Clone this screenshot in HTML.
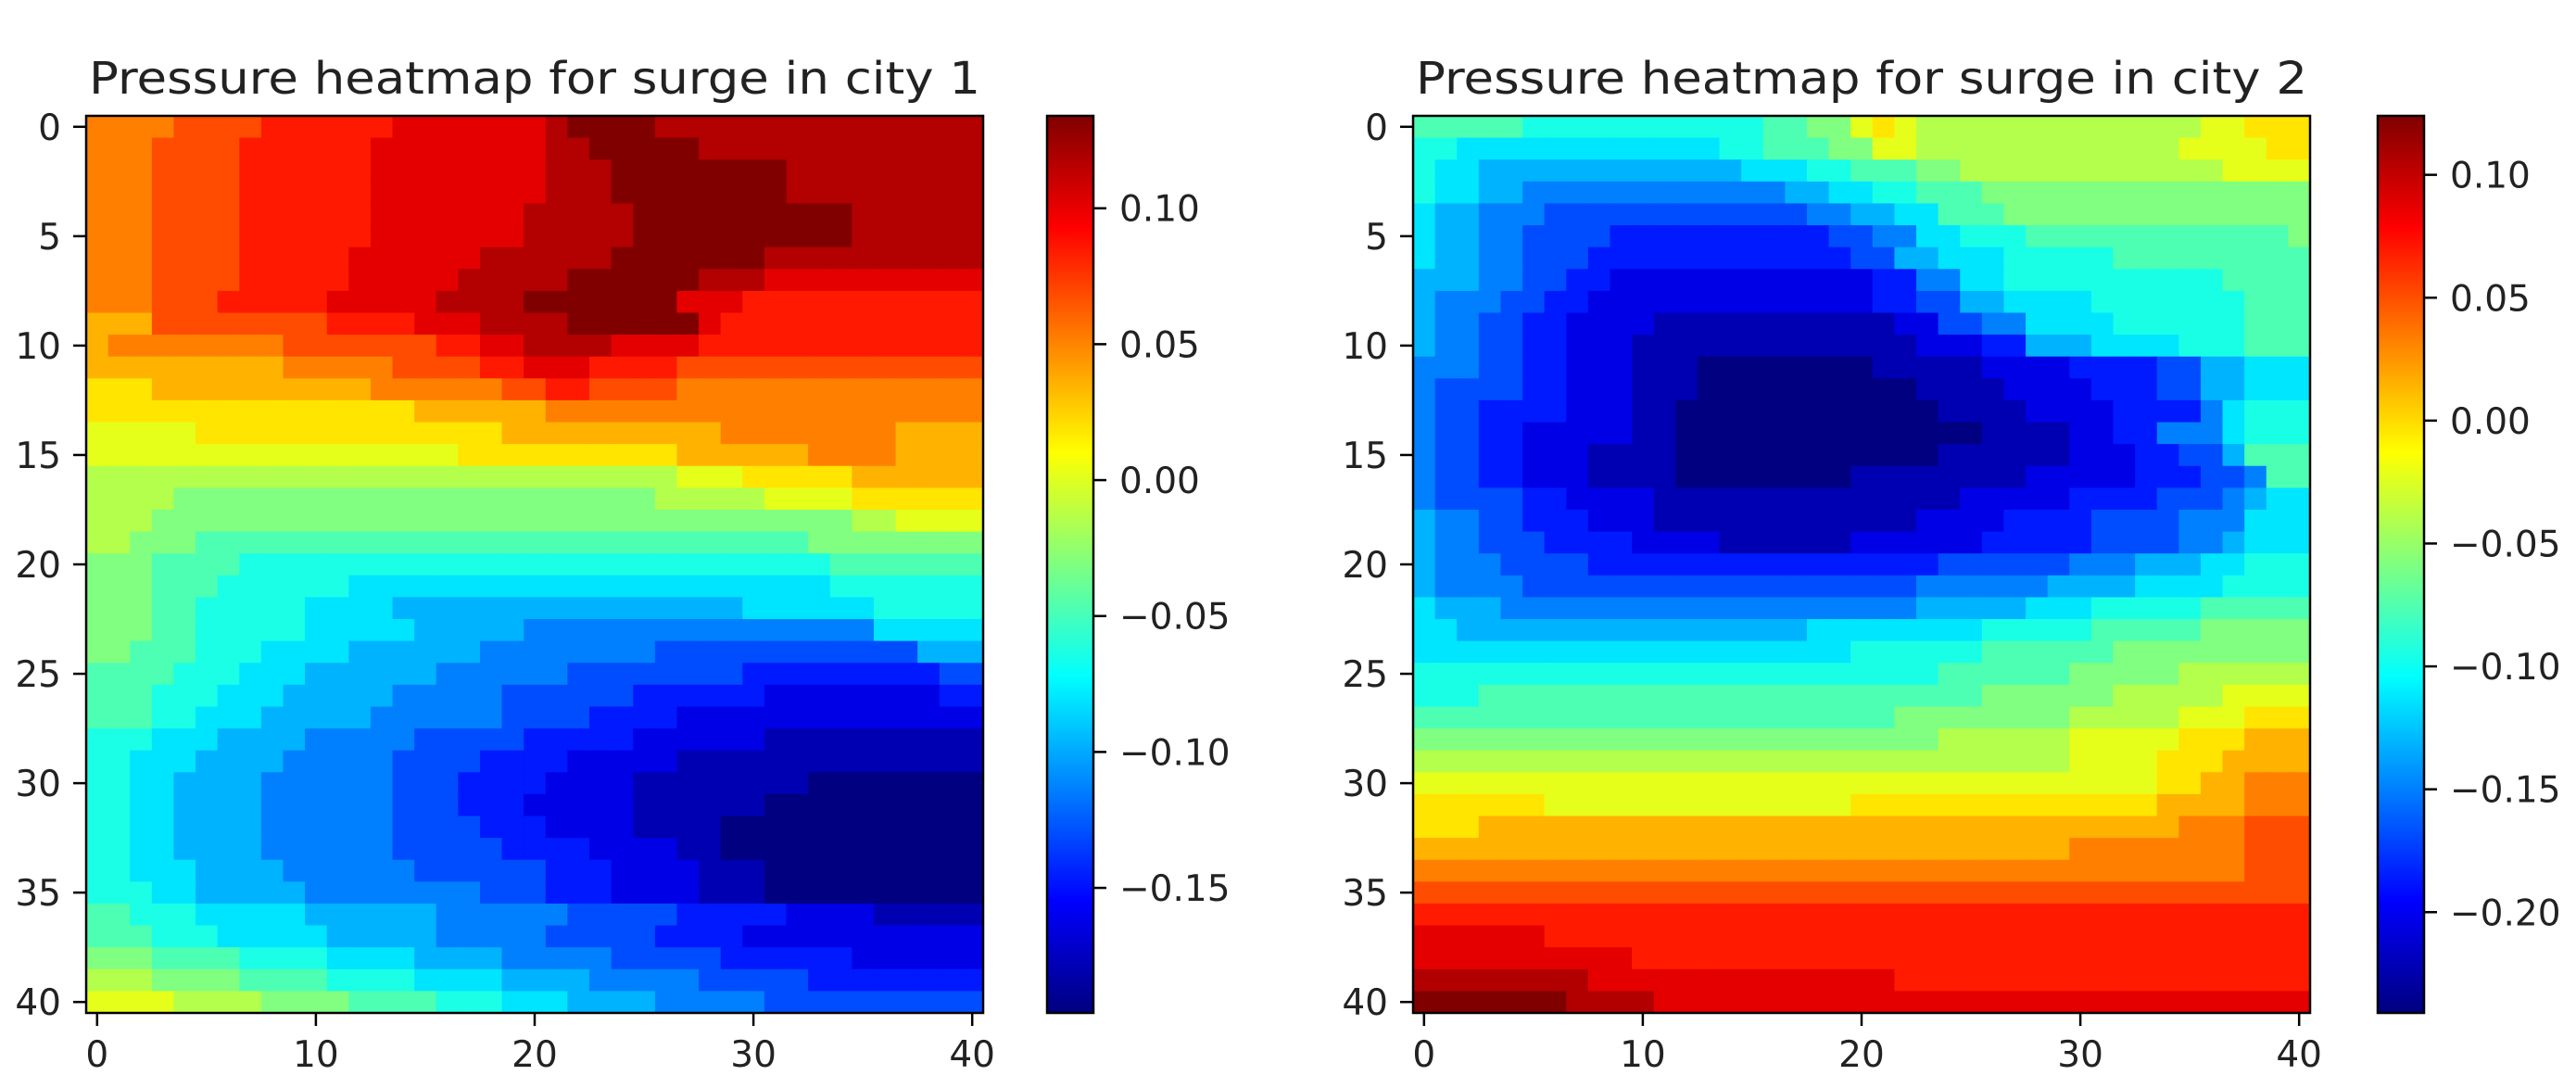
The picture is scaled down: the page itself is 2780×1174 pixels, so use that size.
<!DOCTYPE html>
<html><head><meta charset="utf-8">
<style>
html,body{margin:0;padding:0;background:#fff;}
svg{display:block;font-family:"DejaVu Sans","Liberation Sans",sans-serif;}
</style></head>
<body>
<svg id="fig" width="2780" height="1174" viewBox="0 0 2780 1174" xmlns="http://www.w3.org/2000/svg">
<rect width="2780" height="1174" fill="#fff"/>
</svg>
<script>
// ---- data: city 1 (rows 0..40, run-length letters a..u = level 0..20) ----
const city1Rows = [
"p4q4r6s7t1u4t15","p3q4r6s8t2u5t13","p3q4r6s8t3u8t9","p3q4r6s8t3u8t9","p3q4r6s7t5u10t6",
"p3q4r6s7t5u10t6","p3q4r5s6t6u7t10","p3q4r5s5t5u6t3s10","p3q3r5s5t4u7s3r11","o3q4q4r4s3t4u6s1r12",
"o1p8q7r2s2t4s4r13","o9p5q4r2s3r4q14","n3o10p6q2r2q4p14","n15o6p20","m5n14o10p8o4",
"m17n10o6p4o4","l27m3n5o6","l4k22l5m4n6","l3k32l2m4","l2k3j28k8",
"k3j4i27j7","k3j3i6h22i7","k3j2i5h4g16h6i5","k3j2i5h5g5f16h5","k2j3i3h4g6f8e12g3",
"j4i3h3g6f6e8d9e2","j3i3h3g5f5e6d6c8d2","j3i2h3g5f6e4d4c14","i3h3g4f5e5d5c6b10","i2h3g4f5e4d4c5b14",
"i2h2g4f6e3d4c4b8a8","i2h2g4f6e3d3c5b6a10","i2h2g4f6e4d3c4b4a12","i2h2g4f6e5d4c4b2a12","i2h3g4f6e6d3c4b3a10",
"i3h2g5f8e3d3c4b3a10","j2i3h5g6f6e5d5c4b5","j3i3h5g5f5e5d4c11","k3j4i4h4g4f5e5d6c6","l3k4j4i4h4g4f5e5d8",
"m4l4k4j4i3h3g4f5e10"];
const city1Range = [-0.196, 0.134];
const city1Ticks = [0.10, 0.05, 0.00, -0.05, -0.10, -0.15];
// ---- data: city 2 ----
const city2Rows = [
"j5i11j2k2m1n1m1l13m2n3","i2h12i2j3k2m2l12m4n2","i1h2g12h3i2j3k2l3l9m4","i1h2g2f12g2h2i2j3k15","h1g2f3e12f2g2h2j3k14",
"h1g2f2e4d10e2f2h2i3j12k1","h1g2f2e3d12e2g2h3i5j9","g3f2e2d2c12d2f2h2i10j4","g1f3e2d2c13d2e2g2h4i7j3","g1f2e2d2c4b11c2e2f2h4i6j3",
"g1f2e2d2c3b13c3d2g3h4i3j3","f3e2d2c3b3a8b5c4d4e2g2h3","f1e4d2c3b3a10b4c4d3e2g2h3","f1e2d4c3b2a12b4c4d4f1h1i3","f1e2d2c5b2a14b4c2d2f3h1i3",
"f1e2d2c3b4a12b6c3d2e2g1j3","f1e2d2c3b4a8b8c5d3e2f1j2","f1e4d2c4b14c5d4e3f1g1h2","g1f2e2d3c3b12c4d4e4f3h3","g1f2e3d4c4b6c6d5e4f2g1h3",
"g1f3e4d16e6f3g3h2i3","g1f4e18f6g4h4i4","h1g3f19g5h3i5j5","h2g16h8i5j5k5","h20i6j6k9",
"i24j6k5l6","i3j23k6l5m4","j22k8l5m3n3","k24l6m5n3o3","l30m4n3o4",
"m34n2o2p3","n6m14n14o4p3","n3o32p3q3","o30p8q3","p38q3",
"q41","r41","s6r35","s10r31","t8s14r19",
"u7t4s30"];
const city2Range = [-0.241, 0.124];
const city2Ticks = [0.10, 0.05, 0.00, -0.05, -0.10, -0.15, -0.20];
const axisTicks = [0, 10, 20, 30, 40];
const rowTicks = [0, 5, 10, 15, 20, 25, 30, 35, 40];
const titles = ["Pressure heatmap for surge in city 1", "Pressure heatmap for surge in city 2"];

const NS = "http://www.w3.org/2000/svg";
const svg = document.getElementById("fig");
function mk(tag, attrs, parent){const e=document.createElementNS(NS,tag);for(const k in attrs)e.setAttribute(k,attrs[k]);(parent||svg).appendChild(e);return e;}
function decode(rle){const out=[];const re=/([a-u])(\d+)/g;let m;while((m=re.exec(rle))){for(let i=0;i<+m[2];i++)out.push(m[1].charCodeAt(0)-97);}while(out.length<41)out.push(out[out.length-1]);return out.slice(0,41);}
function jet(t){t=Math.max(0,Math.min(1,t));const c=v=>Math.round(255*Math.max(0,Math.min(1,v)));return `rgb(${c(1.5-Math.abs(4*t-3))},${c(1.5-Math.abs(4*t-2))},${c(1.5-Math.abs(4*t-1))})`;}

function panel(idx, rows, range, cbTicks, L, T, S, cbL, cbW){
  const g = mk("g", {});
  
  
  const n = 41, cw = S / n;
  const xS = c => L + (c + 0.5) * cw;
  const yS = r => T + (r + 0.5) * cw;
  const vals = rows.map(r => decode(r).map(l => range[0] + l / 20 * (range[1] - range[0])));
  vals.forEach((row, r) => row.forEach((v, c) => {
    const rect = mk("rect", {x: (xS(c) - cw/2).toFixed(2), y: (yS(r) - cw/2).toFixed(2), width: (cw+0.6).toFixed(2), height: (cw+0.6).toFixed(2), fill: jet((v - range[0]) / (range[1] - range[0]))}, g);
    
    
  }));
  const fr = mk("rect", {x: L, y: T, width: S, height: S, fill: "none", stroke: "#000", "stroke-width": 2.5}, g);
  
  
  axisTicks.forEach(t => {
    const x = xS(t);
    const tk = mk("line", {x1: x, x2: x, y1: T+S, y2: T+S+14, stroke: "#000", "stroke-width": 2.5}, g);
    
    
    const tx = mk("text", {x: x, y: T+S+58, "font-size": 39, "text-anchor": "middle", fill: "#222"}, g);
    tx.textContent = t;
    
    
  });
  rowTicks.forEach(t => {
    const y = yS(t);
    const tk = mk("line", {x1: L-14, x2: L, y1: y, y2: y, stroke: "#000", "stroke-width": 2.5}, g);
    
    
    const tx = mk("text", {x: L-27, y: y+14, "font-size": 39, "text-anchor": "end", fill: "#222"}, g);
    tx.textContent = t;
    
    
  });
  const ti = mk("text", {x: L + S/2, y: T - 24, "font-size": 48, "text-anchor": "middle", "textLength": S - 6, "lengthAdjust": "spacingAndGlyphs", fill: "#222"}, g);
  ti.textContent = titles[idx];
  
  
  // colorbar
  const gid = "jetgrad" + idx;
  const defs = mk("defs", {}, g);
  const lg = mk("linearGradient", {id: gid, x1: 0, y1: 1, x2: 0, y2: 0}, defs);
  for (let i = 0; i <= 40; i++) mk("stop", {offset: i/40, "stop-color": jet(i/40)}, lg);
  const cb = mk("rect", {x: cbL, y: T, width: cbW, height: S, fill: `url(#${gid})`, stroke: "#000", "stroke-width": 2.5}, g);
  
  
  const cy = v => T + S - (v - range[0]) / (range[1] - range[0]) * S;
  cbTicks.forEach(v => {
    const y = cy(v);
    const tk = mk("line", {x1: cbL+cbW, x2: cbL+cbW+14, y1: y, y2: y, stroke: "#000", "stroke-width": 2.5}, g);
    
    
    const tx = mk("text", {x: cbL+cbW+28, y: y+14, "font-size": 39, fill: "#222"}, g);
    tx.textContent = (v < 0 ? "\u2212" : "") + Math.abs(v).toFixed(2);
    
    
  });
}
panel(0, city1Rows, city1Range, city1Ticks, 93, 125, 968, 1130, 50);
panel(1, city2Rows, city2Range, city2Ticks, 1525, 125, 968, 2566, 50);
</script>
</body></html>
